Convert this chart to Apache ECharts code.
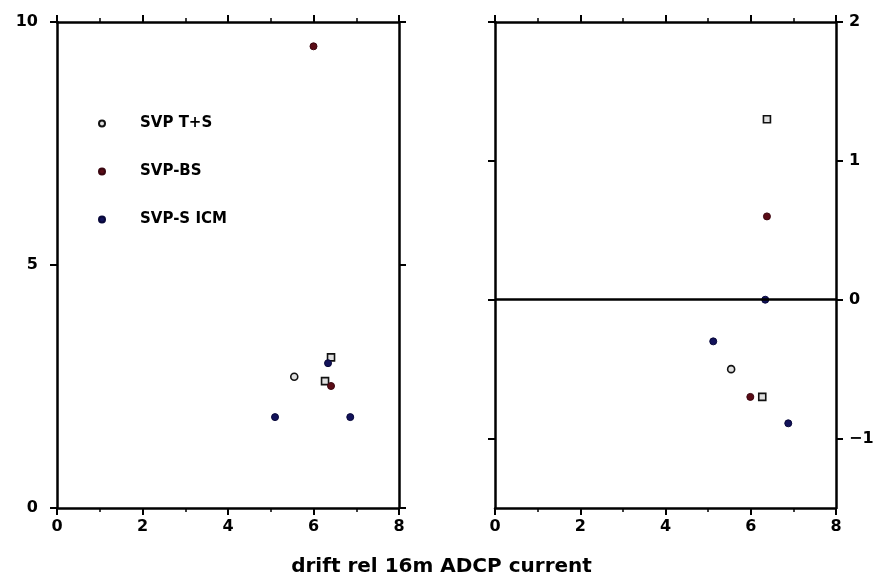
<!DOCTYPE html>
<html><head><meta charset="utf-8">
<script src="https://cdn.jsdelivr.net/npm/echarts@6/dist/echarts.min.js"></script>
<style>html,body{margin:0;padding:0;background:#fff}#c{width:883px;height:581px}</style>
</head><body><div id="c"></div>
<script>
// Left panel data [x, y]
const leftTS   = [[5.55, 2.70], [6.27, 2.61], [6.41, 3.10]];
const leftBS   = [[6.00, 9.50], [6.41, 2.51]];
const leftICM  = [[5.10, 1.87], [6.86, 1.87], [6.34, 2.98]];
// Right panel data [x, y]
const rightTS  = [[5.54, -0.50], [6.27, -0.70], [6.38, 1.30]];
const rightBS  = [[5.99, -0.70], [6.38, 0.60]];
const rightICM = [[5.12, -0.30], [6.88, -0.89], [6.34, 0.00]];
const seriesNames = ['SVP T+S', 'SVP-BS', 'SVP-S ICM'];
const xTicks = [0, 2, 4, 6, 8];
const leftYTicks = [0, 5, 10];
const rightYTicks = [-1, 0, 1, 2];
const xLabel = 'drift rel 16m ADCP current';

const FONT = 'DejaVu Sans';
const lineStyle = {color: '#000', width: 2.5};
const tickStyle = {color: '#000', width: 2};
const numFmt = v => (v < 0 ? '\u2212' + Math.abs(v) : String(v));

function xAxis(grid, pos, labels) {
  return {
    type: 'value', gridIndex: grid, position: pos, min: 0, max: 8, interval: 2,
    axisLine: {show: true, onZero: false, lineStyle},
    axisTick: {show: true, inside: false, length: 7, lineStyle: tickStyle, customValues: xTicks},
    minorTick: {show: true, splitNumber: 2, length: 4, lineStyle: {color: '#000', width: 1.5}},
    splitLine: {show: false},
    axisLabel: {show: labels, color: '#000', fontFamily: FONT, fontWeight: 'bold', fontSize: 16, margin: 11, customValues: xTicks}
  };
}
function yAxis(grid, pos, labels, min, max, ticks) {
  return {
    type: 'value', gridIndex: grid, position: pos, min, max,
    axisLine: {show: true, onZero: false, lineStyle},
    axisTick: {show: true, inside: false, length: 7, lineStyle: tickStyle, customValues: ticks},
    splitLine: {show: false},
    axisLabel: {show: labels, color: '#000', fontFamily: FONT, fontWeight: 'bold', fontSize: 16,
      margin: pos === 'left' ? 19 : 13, customValues: ticks, formatter: numFmt}
  };
}

const tsStyle = {color: '#e0e0e0', borderColor: '#111', borderWidth: 1.6, opacity: 1};
const bsStyle = {color: '#5a0c16', borderColor: '#3a0610', borderWidth: 1, opacity: 1};
const icmStyle = {color: '#12125a', borderColor: '#08083a', borderWidth: 1, opacity: 1};

function sc(name, data, xi, yi, style, sym) {
  return {
    name, type: 'scatter', xAxisIndex: xi, yAxisIndex: yi, data,
    symbol: sym || 'circle', symbolSize: 7, itemStyle: style
  };
}
const tsSym = (v, p) => p.dataIndex === 0 ? 'circle' : 'rect';

const series = [
  sc(seriesNames[0], leftTS, 0, 0, tsStyle, tsSym),
  sc(seriesNames[1], leftBS, 0, 0, bsStyle),
  sc(seriesNames[2], leftICM, 0, 0, icmStyle),
  sc(seriesNames[0], rightTS, 2, 2, tsStyle, tsSym),
  sc(seriesNames[1], rightBS, 2, 2, bsStyle),
  sc(seriesNames[2], rightICM, 2, 2, icmStyle),
  {
    type: 'line', xAxisIndex: 2, yAxisIndex: 2, data: [], silent: true,
    markLine: {silent: true, symbol: 'none', label: {show: false},
      lineStyle: {color: '#000', width: 2.5, type: 'solid'}, data: [{yAxis: 0}]}
  }
];

const chart = echarts.init(document.getElementById('c'));
chart.setOption({
  animation: false,
  backgroundColor: '#fff',
  grid: [
    {left: 57, top: 22, width: 342, height: 486},
    {left: 495, top: 22, width: 341, height: 486}
  ],
  xAxis: [xAxis(0, 'bottom', true), xAxis(0, 'top', false), xAxis(1, 'bottom', true), xAxis(1, 'top', false)],
  yAxis: [
    yAxis(0, 'left', true, 0, 10, leftYTicks), yAxis(0, 'right', false, 0, 10, leftYTicks),
    yAxis(1, 'right', true, -1.5, 2, rightYTicks), yAxis(1, 'left', false, -1.5, 2, rightYTicks)
  ],
  legend: {
    data: seriesNames, orient: 'vertical', left: 93, top: 111, itemGap: 33,
    icon: 'circle', itemWidth: 6, itemHeight: 6,
    textStyle: {color: '#000', fontFamily: FONT, fontWeight: 'bold', fontSize: 15, padding: [0, 0, 0, 30]}
  },
  title: {
    text: xLabel, left: 'center', top: 552,
    textStyle: {color: '#000', fontFamily: FONT, fontWeight: 'bold', fontSize: 20}
  },
  series
});
</script></body></html>
